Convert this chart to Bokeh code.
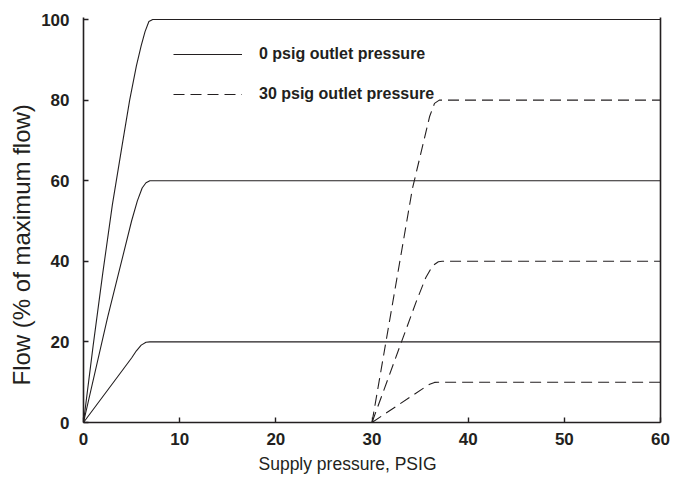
from bokeh.plotting import figure
from bokeh.models import FixedTicker, Legend, LegendItem, Range1d, LinearAxis, Title
from bokeh.embed import file_html
from bokeh.resources import INLINE

# ---- data ----
x_ticks = [0, 10, 20, 30, 40, 50, 60]
y_ticks = [0, 20, 40, 60, 80, 100]

# 0 psig outlet pressure (solid)
x_out0_100 = [0, 1.0, 2.0, 3.0, 4.0, 4.8, 5.5, 6.0, 6.4, 6.8, 7.2, 60]
y_out0_100 = [0, 19, 37, 54, 68.5, 80, 88.5, 93.5, 97, 99.5, 100, 100]
x_out0_60 = [0, 2.5, 5.0, 5.6, 6.1, 6.5, 6.9, 7.3, 60]
y_out0_60 = [0, 26, 50, 55, 58.2, 59.5, 60, 60, 60]
x_out0_20 = [0, 5.0, 5.5, 6.0, 6.5, 6.9, 60]
y_out0_20 = [0, 16, 17.8, 19.2, 19.9, 20, 20]

# 30 psig outlet pressure (dashed)
x_out30_80 = [30, 34.2, 35.4, 36.0, 36.5, 37.0, 60]
y_out30_80 = [0, 58, 70, 76, 79.2, 80, 80]
x_out30_40 = [30, 34.6, 35.6, 36.3, 36.9, 37.3, 60]
y_out30_40 = [0, 30, 36, 38.9, 39.9, 40, 40]
x_out30_10 = [30, 35.4, 36.0, 36.5, 36.9, 60]
y_out30_10 = [0, 8.6, 9.5, 9.95, 10, 10]

legend_labels = ["0 psig outlet pressure", "30 psig outlet pressure"]
x_label = "Supply pressure, PSIG"
y_label = "Flow (% of maximum flow)"

ink = "#231f20"

p = figure(width=672, height=480,
           x_range=Range1d(0, 60), y_range=Range1d(0, 100.5),
           output_backend="svg", toolbar_location=None,
           min_border_left=83, min_border_right=12,
           min_border_top=17, min_border_bottom=58)
p.grid.visible = False
p.outline_line_color = None
p.background_fill_color = "white"

solid = []
for xs, ys in [(x_out0_100, y_out0_100), (x_out0_60, y_out0_60), (x_out0_20, y_out0_20)]:
    solid.append(p.line(xs, ys, line_color=ink, line_width=1.1))
dashed = []
for xs, ys in [(x_out30_80, y_out30_80), (x_out30_40, y_out30_40), (x_out30_10, y_out30_10)]:
    dashed.append(p.line(xs, ys, line_color=ink, line_width=1.1, line_dash="11 6"))

for ax in (p.xaxis[0], p.yaxis[0]):
    ax.axis_line_color = ink
    ax.axis_line_width = 1.6
    ax.major_tick_line_color = ink
    ax.major_tick_line_width = 1.4
    ax.major_tick_in = 5
    ax.major_tick_out = 0
    ax.minor_tick_line_color = None
    ax.major_label_text_font = "Liberation Sans"
    ax.major_label_text_font_style = "bold"
    ax.major_label_text_font_size = "17px"
    ax.major_label_text_color = ink

p.xaxis[0].ticker = FixedTicker(ticks=x_ticks)
p.yaxis[0].ticker = FixedTicker(ticks=y_ticks)
p.xaxis[0].major_label_standoff = 10
p.yaxis[0].major_label_standoff = 14

right = LinearAxis(ticker=FixedTicker(ticks=[]), axis_line_color=ink, axis_line_width=1.6,
                   major_tick_line_color=None, minor_tick_line_color=None,
                   major_label_text_font_size="0px")
p.add_layout(right, "right")

xt = Title(text=x_label, align="left", offset=175, standoff=9,
           text_font="Liberation Sans", text_font_style="normal",
           text_font_size="17.5px", text_color=ink)
p.add_layout(xt, "below")
yt = Title(text=y_label, align="left", offset=37, standoff=8,
           text_font="Liberation Sans", text_font_style="normal",
           text_font_size="24px", text_color=ink)
p.add_layout(yt, "left")

legend = Legend(items=[LegendItem(label=legend_labels[0], renderers=[solid[0]]),
                       LegendItem(label=legend_labels[1], renderers=[dashed[0]])],
                location=(90, 318), orientation="vertical",
                glyph_width=69, glyph_height=20, label_height=20,
                spacing=20, label_standoff=17, padding=0, margin=0,
                border_line_color=None, background_fill_alpha=0,
                label_text_font="Liberation Sans", label_text_font_style="bold",
                label_text_font_size="16px", label_text_color=ink)
p.add_layout(legend)

open("out.html", "w").write(file_html(p, INLINE))
